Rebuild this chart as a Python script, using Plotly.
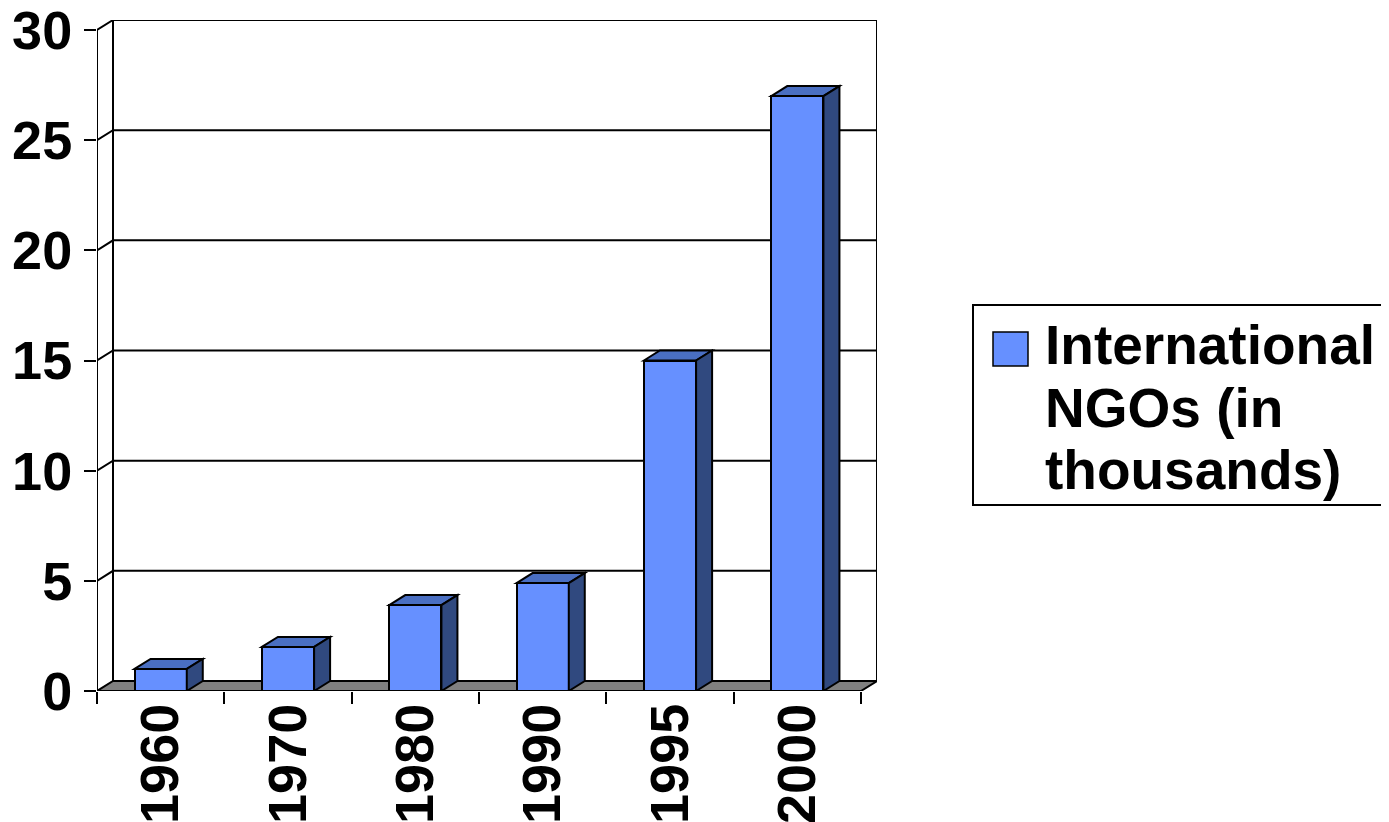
import plotly.graph_objects as go

# ---------------- data ----------------
years = ["1960", "1970", "1980", "1990", "1995", "2000"]
ngos_thousands = [1.0, 2.0, 3.9, 4.9, 15.0, 27.0]
y_tick_values = [0, 5, 10, 15, 20, 25, 30]
legend_lines = ["International", "NGOs (in", "thousands)"]

# ---------------- style ----------------
FRONT = "#6690FF"
TOP = "#4A6FC2"
SIDE = "#30497F"
FLOOR = "#808080"
FONT = dict(family="Liberation Sans, Arial, sans-serif", size=54, color="black", weight="bold")
LEG_FONT = dict(FONT, size=55)
OFF = 8                                 # page body margin of the html page
W, H = 1389 - OFF, 822 - OFF
L, R, T, B = 97 - OFF, 877 - OFF, 20 - OFF, 691 - OFF   # plot area in figure pixels
DEPTH_X_PX, DEPTH_Y_PX = 16, 10        # 3-D depth offset in pixels
BAR_W = 0.41
YMAX = 30
LW = 2

n = len(years)
xs = list(range(n))
dx = DEPTH_X_PX * n / ((R - L) - DEPTH_X_PX)
dy = DEPTH_Y_PX * YMAX / ((B - T) - DEPTH_Y_PX)
x0, x1 = -0.5, n - 0.5


def px(xp):
    return (xp - OFF - L) / (R - L)


def py(yp):
    return (B - (yp - OFF)) / (B - T)


fig = go.Figure()
fig.add_trace(go.Bar(
    x=xs, y=ngos_thousands, width=BAR_W,
    marker=dict(color=FRONT, line=dict(color="black", width=LW)),
    showlegend=False, hoverinfo="x+y", name="International NGOs (in thousands)",
))
fig.add_trace(go.Scatter(
    x=xs, y=ngos_thousands, xaxis="x2", mode="markers",
    marker=dict(opacity=0), hoverinfo="skip", showlegend=False,
))

shapes = []
line = dict(color="black", width=LW)
# floor
shapes.append(dict(type="path", xref="x", yref="y", layer="below",
                   path=f"M {x0},0 L {x1},0 L {x1+dx},{dy} L {x0+dx},{dy} Z",
                   fillcolor=FLOOR, line=line))
# gridlines on back wall (with slanted side-wall part)
for v in y_tick_values[1:]:
    shapes.append(dict(type="path", xref="x", yref="y", layer="below",
                       path=f"M {x0},{v} L {x0+dx},{v+dy} L {x1+dx},{v+dy}",
                       line=line))
# back wall verticals
for xv in (x0 + dx, x1 + dx):
    shapes.append(dict(type="line", xref="x", yref="y", layer="below",
                       x0=xv, x1=xv, y0=dy, y1=YMAX + dy, line=line))
# front value axis line
shapes.append(dict(type="line", xref="x", yref="y", layer="below",
                   x0=x0, x1=x0, y0=0, y1=YMAX, line=line))
# 3-D bar top and side faces
for xc, v in zip(xs, ngos_thousands):
    a, b = xc - BAR_W / 2, xc + BAR_W / 2
    shapes.append(dict(type="path", xref="x", yref="y", layer="above",
                       path=f"M {a},{v} L {a+dx},{v+dy} L {b+dx},{v+dy} L {b},{v} Z",
                       fillcolor=TOP, line=line))
    shapes.append(dict(type="path", xref="x", yref="y", layer="above",
                       path=f"M {b},0 L {b+dx},{dy} L {b+dx},{v+dy} L {b},{v} Z",
                       fillcolor=SIDE, line=line))
# legend box and key
shapes.append(dict(type="rect", xref="paper", yref="paper",
                   x0=px(973), x1=px(1387), y0=py(505), y1=py(305),
                   line=line, fillcolor="white", layer="above"))
shapes.append(dict(type="rect", xref="paper", yref="paper",
                   x0=px(993), x1=px(1028), y0=py(366), y1=py(332),
                   line=dict(color="black", width=1.5), fillcolor=FRONT, layer="above"))

annotations = []
for txt, ymid in zip(legend_lines, [344.5, 408.5, 469.5]):
    annotations.append(dict(xref="paper", yref="paper", x=px(1044), y=py(ymid),
                            xanchor="left", yanchor="middle", text=txt,
                            showarrow=False, font=LEG_FONT, borderpad=0))

axis_common = dict(showgrid=False, zeroline=False, showline=False, fixedrange=True,
                   automargin=False, ticklabeloverflow="allow")
fig.update_layout(
    width=W, height=H,
    margin=dict(l=L, r=W - R, t=T, b=H - B, pad=0, autoexpand=False),
    paper_bgcolor="white", plot_bgcolor="white",
    bargap=0,
    shapes=shapes, annotations=annotations,
    xaxis=dict(range=[x0, x1 + dx], tickmode="array",
               tickvals=[x0 + i for i in range(n + 1)],
               ticks="outside", ticklen=12, tickwidth=LW, tickcolor="black",
               showticklabels=False, **axis_common),
    xaxis2=dict(range=[x0, x1 + dx], overlaying="x", anchor="y", side="bottom",
                tickmode="array", tickvals=xs, ticktext=years, tickangle=-90,
                ticks="", tickfont=FONT, ticklabelstandoff=1, **axis_common),
    yaxis=dict(range=[0, YMAX + dy], tickmode="array", tickvals=y_tick_values,
               ticks="outside", ticklen=12, tickwidth=LW, tickcolor="black",
               tickfont=FONT, ticklabelstandoff=1, **axis_common),
    showlegend=False,
)

fig.write_html("out.html")
